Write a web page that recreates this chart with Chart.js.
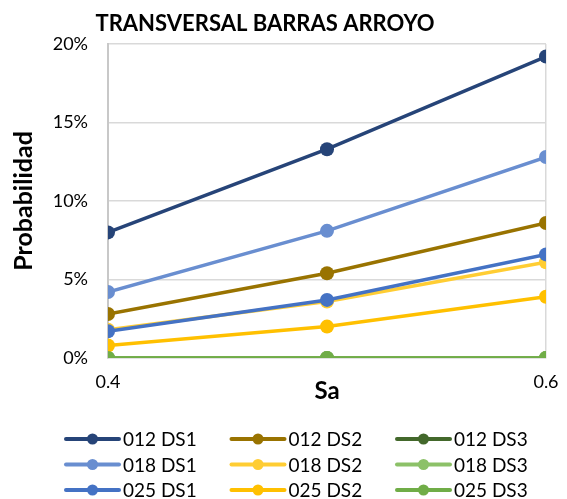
<!DOCTYPE html>
<html lang="es">
<head>
<meta charset="UTF-8">
<title>Transversal Barras Arroyo</title>
<script src="https://cdn.jsdelivr.net/npm/chart.js"></script>
<style>
  html, body { margin: 0; padding: 0; background: #fff; }
  #grafico { display: block; }
</style>
</head>
<body>
<canvas id="grafico" width="567" height="499"></canvas>
<script>
// eixo x (Sa)
const sa = [0.4, 0.5, 0.6];
const xTicks = [0.4, 0.6];
const yTicks = [0, 0.05, 0.10, 0.15, 0.20];

// nomes das series, na ordem da legenda
const nomes = ['012 DS1', '012 DS2', '012 DS3',
               '018 DS1', '018 DS2', '018 DS3',
               '025 DS1', '025 DS2', '025 DS3'];

// probabilidades
const p012DS1 = [0.080, 0.133, 0.192];
const p012DS2 = [0.028, 0.054, 0.086];
const p012DS3 = [0.000, 0.000, 0.000];
const p018DS1 = [0.042, 0.081, 0.128];
const p018DS2 = [0.018, 0.036, 0.061];
const p018DS3 = [0.000, 0.000, 0.000];
const p025DS1 = [0.017, 0.037, 0.066];
const p025DS2 = [0.008, 0.020, 0.039];
const p025DS3 = [0.000, 0.000, 0.000];

const series = [p012DS1, p012DS2, p012DS3, p018DS1, p018DS2, p018DS3, p025DS1, p025DS2, p025DS3];
const cores = ['#264478', '#997300', '#43682B',
               '#698ED0', '#FFCD33', '#8CC168',
               '#4472C4', '#FFC000', '#70AD47'];

const fonte = 'Lato, "Open Sans", sans-serif';

const datasets = series.map(function (vals, i) {
    return {
        label: nomes[i],
        data: vals.map(function (v, j) { return { x: sa[j], y: v }; }),
        borderColor: cores[i],
        backgroundColor: cores[i],
        borderWidth: 3.5,
        pointRadius: 7,
        pointBorderWidth: 0,
        showLine: true,
        // a ultima serie fica por cima (como no Excel)
        order: series.length - i
    };
});

// titulo e legenda desenhados a mao
const extras = {
    id: 'extras',
    afterDraw(chart) {
        const ctx = chart.ctx;
        ctx.save();
        ctx.fillStyle = '#000';
        ctx.font = 'bold 22px ' + fonte;
        ctx.textAlign = 'center';
        ctx.textBaseline = 'alphabetic';
        ctx.fillText('TRANSVERSAL BARRAS ARROYO', 265, 31);

        ctx.font = '19px ' + fonte;
        ctx.textAlign = 'left';
        ctx.textBaseline = 'middle';
        nomes.forEach(function (nome, i) {
            const x0 = 66 + (i % 3) * 165.5;
            const y = 439 + Math.floor(i / 3) * 25.5;
            ctx.strokeStyle = cores[i];
            ctx.lineWidth = 4;
            ctx.lineCap = 'round';
            ctx.beginPath();
            ctx.moveTo(x0, y);
            ctx.lineTo(x0 + 53, y);
            ctx.stroke();
            ctx.fillStyle = cores[i];
            ctx.beginPath();
            ctx.arc(x0 + 26.5, y, 5.5, 0, Math.PI * 2);
            ctx.fill();
            ctx.fillStyle = '#000';
            ctx.fillText(nome, x0 + 57, y + 1);
        });
        ctx.restore();
    }
};

new Chart(document.getElementById('grafico'), {
    type: 'scatter',
    data: { datasets: datasets },
    options: {
        responsive: false,
        animation: false,
        layout: { padding: { top: 44, left: 0, right: 0, bottom: 91 } },
        plugins: {
            legend: { display: false },
            tooltip: { enabled: false }
        },
        scales: {
            x: {
                type: 'linear',
                min: 0.4,
                max: 0.6,
                afterBuildTicks: function (s) { s.ticks = xTicks.map(function (v) { return { value: v }; }); },
                afterFit: function (s) { s.height = 50; s.paddingLeft = 0; s.paddingRight = 21; },
                grid: { color: '#d9d9d9', lineWidth: 1.5, drawTicks: false },
                border: { color: '#d9d9d9', width: 1.5 },
                ticks: {
                    padding: 13,
                    color: '#000',
                    font: { family: fonte, size: 18 },
                    callback: function (v) { return v.toFixed(1); }
                },
                title: {
                    display: true,
                    text: 'Sa',
                    color: '#000',
                    font: { family: fonte, size: 24, weight: 'bold' },
                    padding: { top: 0, bottom: 2 }
                }
            },
            y: {
                min: 0,
                max: 0.2,
                afterBuildTicks: function (s) { s.ticks = yTicks.map(function (v) { return { value: v }; }); },
                afterFit: function (s) { s.width = 108; },
                grid: { color: '#d9d9d9', lineWidth: 1.5, drawTicks: false },
                border: { color: '#c8c8c8', width: 2 },
                ticks: {
                    padding: 20,
                    color: '#000',
                    font: { family: fonte, size: 18 },
                    callback: function (v) { return Math.round(v * 100) + '%'; }
                },
                title: {
                    display: true,
                    text: 'Probabilidad',
                    color: '#000',
                    font: { family: fonte, size: 25, weight: 'bold' },
                    padding: { top: 9, bottom: 0 }
                }
            }
        }
    },
    plugins: [extras]
});
</script>
</body>
</html>
